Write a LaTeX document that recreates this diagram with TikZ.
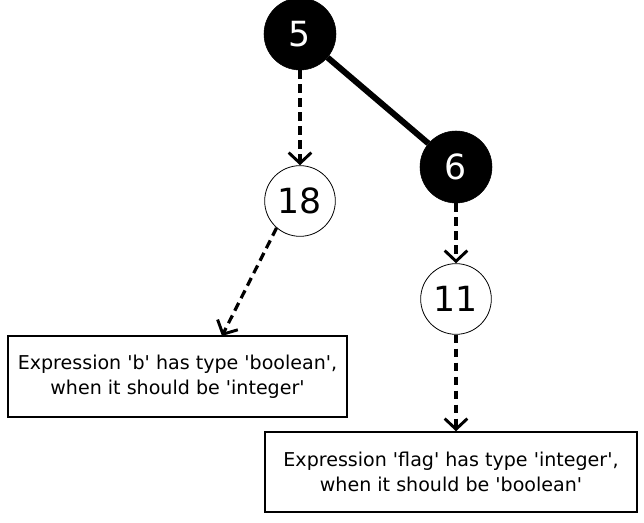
\documentclass[tikz,border=0pt]{standalone}
\usepackage{fontspec}
\setmainfont{DejaVu Sans}
\usetikzlibrary{arrows.meta}
\newcommand{\q}{\textquotesingle}
\begin{document}
\begin{tikzpicture}[x=0.75pt,y=-0.75pt,
  blacknode/.style={circle,fill=black,draw=black,minimum size=54pt,inner sep=0pt,text=white,font=\fontsize{26}{30}\selectfont},
  whitenode/.style={circle,fill=white,draw=black,line width=0.6pt,minimum size=53pt,inner sep=0pt,font=\fontsize{26}{30}\selectfont},
  msgbox/.style={draw=black,line width=1.1pt,inner sep=0pt,align=center,font=\fontsize{14.3}{18.75}\selectfont},
  dep/.style={line width=2.4pt,dash pattern=on 6.5pt off 4pt,-{Straight Barb[length=8pt,width=17pt,line width=2.2pt]}},
  solidedge/.style={line width=4.5pt}]
\useasboundingbox (0,0) rectangle (644,523);
\node[blacknode] (n5) at (300,34) {5};
\node[blacknode] (n6) at (456,167) {6};
\node[whitenode] (n18) at (300,201) {18};
\node[whitenode] (n11) at (456,299) {11};
\node[msgbox,minimum width=254pt,minimum height=60.75pt] (b1) at (177.5,376.5) {Expression \q b\q{} has type \q boolean\q,\\when it should be \q integer\q};
\node[msgbox,minimum width=279pt,minimum height=60pt] (b2) at (451,472) {Expression \q flag\q{} has type \q integer\q,\\when it should be \q boolean\q};
\coordinate (b1in) at (222,336);
\draw[solidedge] (n5) -- (n6);
\draw[dep] (n5) -- (n18);
\draw[dep] (n6) -- (n11);
\draw[dep] (n18.229) -- (b1in);
\draw[dep] (n11) -- (n11 |- b2.north);
\end{tikzpicture}
\end{document}
